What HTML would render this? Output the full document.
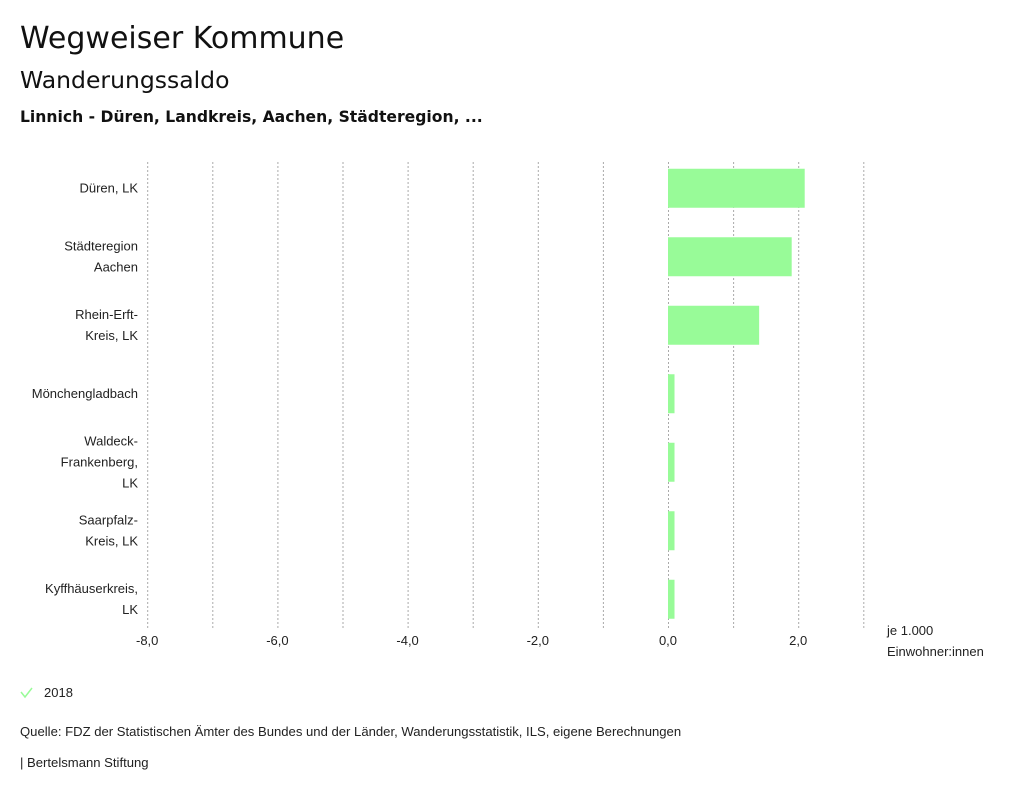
<!DOCTYPE html>
<html><head><meta charset="utf-8"><style>
body{margin:0;background:#fff;width:1024px;height:795px;overflow:hidden}
svg text{font-family:"Liberation Sans",sans-serif;fill:#222}
.t{font-family:"DejaVu Sans",sans-serif !important;fill:#111}
</style></head><body>
<svg id="c" width="1024" height="795">
<text class="t" x="20" y="48" font-size="30">Wegweiser Kommune</text>
<text class="t" x="20" y="88" font-size="23.5">Wanderungssaldo</text>
<text class="t" x="20" y="122" font-size="15.6" font-weight="bold">Linnich - Düren, Landkreis, Aachen, Städteregion, ...</text>
<g id="grid"></g><g id="bars"></g><g id="ylab"></g><g id="xlab"></g>
<text x="887" y="635" font-size="13">je 1.000</text>
<text x="887" y="656" font-size="13">Einwohner:innen</text>
<g>
<polyline points="21,692 25,697 32,688" fill="none" stroke="#98fb98" stroke-width="1.5"/>
<text x="44" y="697" font-size="13">2018</text></g>
<text x="20" y="736" font-size="13.1">Quelle: FDZ der Statistischen Ämter des Bundes und der Länder, Wanderungsstatistik, ILS, eigene Berechnungen</text>
<text x="20" y="767" font-size="13.1">| Bertelsmann Stiftung</text>
</svg>
<script>
const categories=[["Düren, LK"],["Städteregion","Aachen"],["Rhein-Erft-","Kreis, LK"],["Mönchengladbach"],["Waldeck-","Frankenberg,","LK"],["Saarpfalz-","Kreis, LK"],["Kyffhäuserkreis,","LK"]];
const values=[2.1,1.9,1.4,0.1,0.1,0.1,0.1];
const ticks=[-8,-6,-4,-2,0,2];
const tickLabels=["-8,0","-6,0","-4,0","-2,0","0,0","2,0"];
const gridVals=[-8,-7,-6,-5,-4,-3,-2,-1,0,1,2,3];
const NS="http://www.w3.org/2000/svg";
const xs=v=>668+v*65.1;
const plotTop=154,step=68.5;
const yc=i=>plotTop+step*(i+0.5);
function mk(t,a,p){const e=document.createElementNS(NS,t);for(const k in a)e.setAttribute(k,a[k]);p.appendChild(e);return e;}
const G=document.getElementById('grid'),B=document.getElementById('bars'),Y=document.getElementById('ylab'),X=document.getElementById('xlab');
gridVals.forEach(v=>{const l=mk('line',{x1:xs(v)+0.5,x2:xs(v)+0.5,y1:162,y2:628,stroke:'#aaa','stroke-width':1,'stroke-dasharray':'2,2'},G);

});
ticks.forEach((v,i)=>{const t=mk('text',{x:xs(v),y:645,'font-size':13,'text-anchor':'middle'},X);t.textContent=tickLabels[i];

});
values.forEach((v,i)=>{const x0=Math.min(xs(0),xs(v));const r=mk('rect',{x:x0,y:yc(i)-19.5,width:Math.abs(xs(v)-xs(0)),height:39,fill:'#98fb98'},B);


const lines=categories[i];const t=mk('text',{'font-size':13,'text-anchor':'end'},Y);


lines.forEach((s,j)=>{const ts=mk('tspan',{x:138,y:yc(i)+4+(j-(lines.length-1)/2)*21},t);ts.textContent=s;});});
</script>
</body></html>
